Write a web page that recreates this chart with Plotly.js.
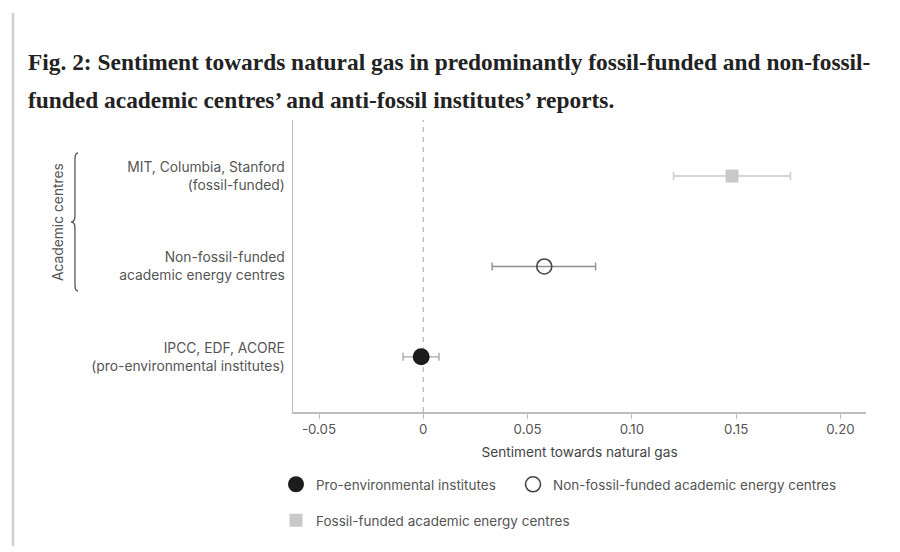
<!DOCTYPE html>
<html>
<head>
<meta charset="utf-8">
<script src="https://cdn.plot.ly/plotly-3.0.1.min.js"></script>
<style>
html,body{margin:0;padding:0;background:#fff;}
#chart{width:900px;height:552px;}
</style>
</head>
<body>
<div id="chart"></div>
<script>
// ---- data ----
const groups = ["Pro-environmental institutes", "Non-fossil-funded academic energy centres", "Fossil-funded academic energy centres"];
const categoryLabels = ["IPCC, EDF, ACORE<br>(pro-environmental institutes)", "Non-fossil-funded<br>academic energy centres", "MIT, Columbia, Stanford<br>(fossil-funded)"];
const categoryPos = [0, 1, 2];
const sentiment = [-0.001, 0.058, 0.148];
const ciLow = [-0.0097, 0.033, 0.120];
const ciHigh = [0.0075, 0.0826, 0.176];
const xTickVals = [-0.05, 0, 0.05, 0.10, 0.15, 0.20];
const xTickText = ["-0.05", "0", "0.05", "0.10", "0.15", "0.20"];

// ---- layout geometry (pixels) ----
const L = 293, R = 866, T = 120, B = 412;
const W = R - L, H = B - T;
const px = x => (x - L) / W;
const py = y => (B - y) / H;

const FONT = "Inter, Roboto, 'Liberation Sans', sans-serif";
const TITLE_FONT = "'Liberation Serif', 'DejaVu Serif', serif";

const styles = [
  {symbol: "circle", size: 17, color: "#1c1c1c", line: {width: 0}, err: "#a8a8a8", legend: "legend"},
  {symbol: "circle-open", size: 15, color: "#444444", line: {width: 1.6, color: "#444444"}, err: "#8f8f8f", legend: "legend3"},
  {symbol: "square", size: 13, color: "#c9c9c9", line: {width: 0}, err: "#c9c9c9", legend: "legend2"}
];

const traces = groups.map((g, i) => ({
  type: "scatter",
  mode: "markers",
  name: g,
  x: [sentiment[i]],
  y: [categoryPos[i]],
  legend: styles[i].legend,
  marker: {symbol: styles[i].symbol, size: styles[i].size, color: styles[i].color, line: styles[i].line},
  error_x: {
    type: "data", symmetric: false,
    array: [ciHigh[i] - sentiment[i]],
    arrayminus: [sentiment[i] - ciLow[i]],
    color: styles[i].err, thickness: 1.4, width: 4
  },
  hoverinfo: "x+name"
}));

// brace path (pixels -> paper)
const bp = [[78,153],[75,153],[75,159],[75,216],[75,222],[71,222],[75,222],[75,228],[75,285],[75,291],[78,291]];
const P = p => px(p[0]).toFixed(4) + "," + py(p[1]).toFixed(4);
const bracePath = "M" + P(bp[0]) + " Q" + P(bp[1]) + " " + P(bp[2]) + " L" + P(bp[3]) +
  " Q" + P(bp[4]) + " " + P(bp[5]) + " Q" + P(bp[6]) + " " + P(bp[7]) + " L" + P(bp[8]) +
  " Q" + P(bp[9]) + " " + P(bp[10]);

const legendBase = {orientation: "h", xanchor: "left", yanchor: "top",
  font: {family: FONT, size: 13.5, color: "#555"}, itemclick: false, itemdoubleclick: false};

const layout = {
  width: 900, height: 552,
  margin: {l: L, r: 900 - R, t: T, b: 552 - B},
  paper_bgcolor: "#fff", plot_bgcolor: "#fff",
  font: {family: FONT, color: "#555", size: 13},
  showlegend: true,
  xaxis: {
    range: [(L - 423.3) / 2086, (R - 423.3) / 2086],
    tickvals: xTickVals, ticktext: xTickText,
    ticks: "outside", ticklen: 5, tickcolor: "#bbb", tickwidth: 1,
    showline: true, linecolor: "#bdbdbd", linewidth: 1.5,
    showgrid: false, zeroline: false,
    tickfont: {family: FONT, size: 13.3, color: "#555"},
    title: {text: "Sentiment towards natural gas", font: {family: FONT, size: 13.7, color: "#444"}, standoff: 11}
  },
  yaxis: {
    range: [-0.61, 2.62],
    tickvals: categoryPos, ticktext: categoryLabels,
    ticks: "", showline: true, linecolor: "#bdbdbd", linewidth: 1.5,
    showgrid: false, zeroline: false,
    tickfont: {family: FONT, size: 13.8, color: "#555"},
    ticklabelstandoff: 4
  },
  legend: Object.assign({}, legendBase, {x: px(276), y: py(469)}),
  legend3: Object.assign({}, legendBase, {x: px(513), y: py(469)}),
  legend2: Object.assign({}, legendBase, {x: px(276), y: py(505)}),
  shapes: [
    {type: "line", xref: "x", yref: "paper", x0: 0, x1: 0, y0: 0, y1: 1,
     line: {color: "#bbbbbb", width: 1.3, dash: "5px,5px"}, layer: "below"},
    {type: "path", xref: "paper", yref: "paper", path: bracePath, line: {color: "#555", width: 1.3}},
    {type: "line", xref: "paper", yref: "paper", x0: px(13), x1: px(13), y0: py(13), y1: py(546),
     line: {color: "#cfcfcf", width: 2.5}}
  ],
  annotations: [
    {xref: "paper", yref: "paper", x: px(26), y: py(62), xanchor: "left", yanchor: "middle", showarrow: false,
     text: "<b>Fig. 2: Sentiment towards natural gas in predominantly fossil-funded and non-fossil-</b>",
     font: {family: TITLE_FONT, size: 23.4, color: "#222"}},
    {xref: "paper", yref: "paper", x: px(26), y: py(100), xanchor: "left", yanchor: "middle", showarrow: false,
     text: "<b>funded academic centres’ and anti-fossil institutes’ reports.</b>",
     font: {family: TITLE_FONT, size: 23.4, color: "#222"}},
    {xref: "paper", yref: "paper", x: px(58), y: py(222), xanchor: "center", yanchor: "middle", showarrow: false,
     textangle: -90, text: "Academic centres", font: {family: FONT, size: 13.8, color: "#555"}}
  ]
};

Plotly.newPlot("chart", traces, layout, {displayModeBar: false, staticPlot: true});
</script>
</body>
</html>
